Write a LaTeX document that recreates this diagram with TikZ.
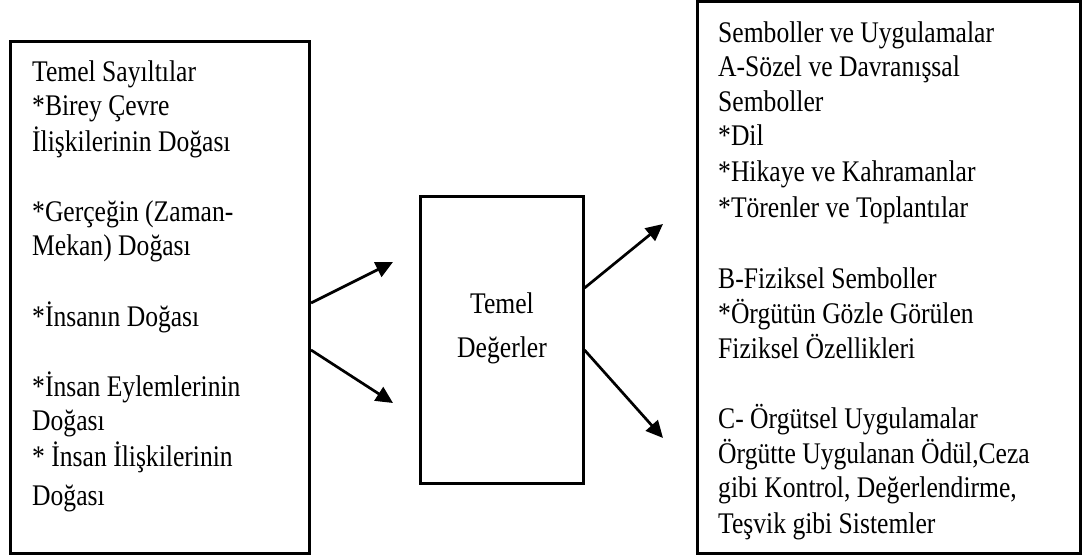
\documentclass[tikz,border=0pt]{standalone}
\usepackage{fontspec}
\usepackage{graphicx}
\setmainfont{Liberation Serif}
\usetikzlibrary{arrows.meta}

% taller letter shapes
\newcommand{\tall}[1]{\scalebox{1}[1.17]{#1}}

\tikzset{
  frame/.style={draw=black, line width=3pt, fill=white, inner sep=0pt},
  txt/.style={anchor=base west, inner sep=0pt, font=\fontsize{25.6}{34}\selectfont},
  ctxt/.style={anchor=base, inner sep=0pt, font=\fontsize{25.6}{34}\selectfont},
  link/.style={line width=2.7pt, -{Triangle[length=17pt,width=16pt]}}
}

\begin{document}
\begin{tikzpicture}[x=1pt, y=-1pt]
\useasboundingbox (0,0) rectangle (1083,559);

% the three boxes
\node[frame, minimum width=299pt, minimum height=512pt] (L) at (160,297.5) {};
\node[frame, minimum width=163pt, minimum height=287pt] (M) at (501.5,339.5) {};
\node[frame, minimum width=383pt, minimum height=551pt] (R) at (888.5,277.5) {};

% left column: basic assumptions
\foreach \i/\yy/\t in {
  1/82/{Temel Sayıltılar},
  2/116/{*Birey Çevre},
  3/151/{İlişkilerinin Doğası},
  4/221/{*Gerçeğin (Zaman-},
  5/255/{Mekan) Doğası},
  6/326/{*İnsanın Doğası},
  7/396/{*İnsan Eylemlerinin},
  8/430/{Doğası},
  9/466/{* İnsan İlişkilerinin},
  10/505/{Doğası}}
  \node[txt] (Lt\i) at (32,\yy) {\tall{\t}};

% middle box label
\node[ctxt] (Mt1) at (502,313) {\tall{Temel}};
\node[ctxt] (Mt2) at (502,357) {\tall{Değerler}};

% right column: symbols and practices
\foreach \i/\yy/\t in {
  1/43/{Semboller ve Uygulamalar},
  2/77/{A-Sözel ve Davranışsal},
  3/111/{Semboller},
  4/146/{*Dil},
  5/181/{*Hikaye ve Kahramanlar},
  6/217/{*Törenler ve Toplantılar},
  7/288/{B-Fiziksel Semboller},
  8/323/{*Örgütün Gözle Görülen},
  9/358/{Fiziksel Özellikleri},
  10/428/{C- Örgütsel Uygulamalar},
  11/463/{Örgütte Uygulanan Ödül,Ceza},
  12/497/{gibi Kontrol, Değerlendirme,},
  13/533/{Teşvik gibi Sistemler}}
  \node[txt] (Rt\i) at (718,\yy) {\tall{\t}};

% arrow tips
\coordinate (a1) at (393,262);
\coordinate (a2) at (393,403);
\coordinate (b1) at (663,224);
\coordinate (b2) at (663,438);

% connectors
\draw[link] (L.east |- 0,303) -- (a1);
\draw[link] (L.east |- 0,350) -- (a2);
\draw[link] (M.east |- 0,288) -- (b1);
\draw[link] (M.east |- 0,350) -- (b2);
\end{tikzpicture}
\end{document}
